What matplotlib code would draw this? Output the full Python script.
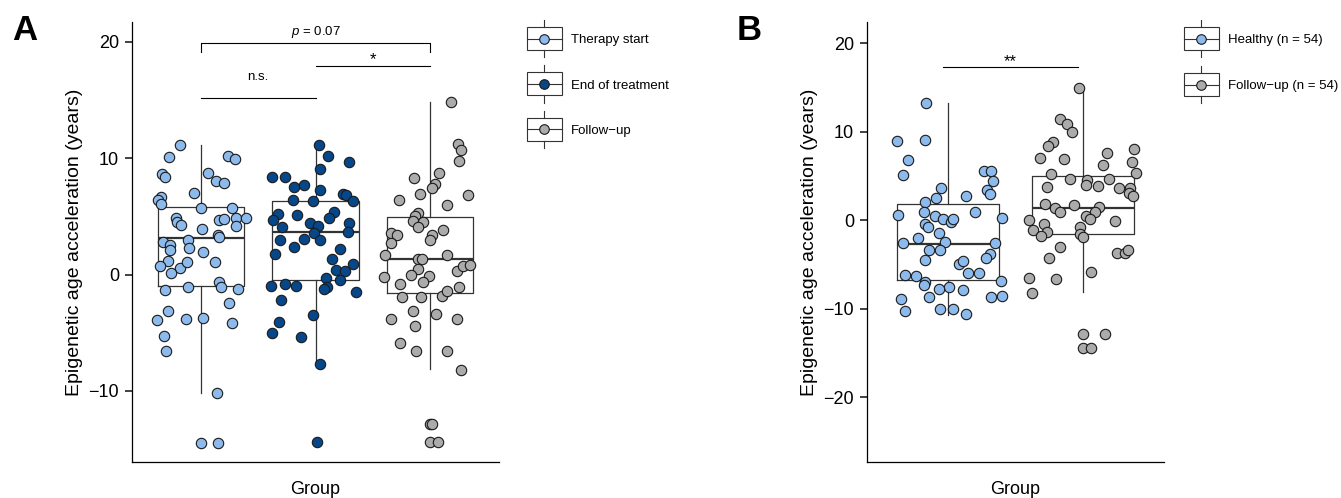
"""Epigenetic age acceleration box plots, panels A and B."""
import matplotlib
import numpy as np

matplotlib.use("Agg")
from matplotlib import pyplot as plt
from matplotlib.legend_handler import HandlerBase
from matplotlib.lines import Line2D
from matplotlib.patches import Patch, Rectangle

plt.rcParams["font.family"] = ["Liberation Sans", "DejaVu Sans"]
plt.rcParams["mathtext.fontset"] = "custom"
plt.rcParams["mathtext.it"] = "Liberation Sans:italic"
plt.rcParams["mathtext.rm"] = "Liberation Sans"

LIGHT_BLUE = "#8DBAEC"
DARK_BLUE = "#06478A"
GREY = "#ABABAB"
LINE = "#333333"
EDGE = "#1a1a1a"

# ---- panel A: therapy start / end of treatment / follow-up ----
groups_a = ["Therapy start", "End of treatment", "Follow\u2212up"]

start_y = [11.1, 10.1, 10.2, 9.9, 8.6, 8.4, 8.7, 8.0, 7.9, 7.0, 6.7, 6.4, 6.1, 5.7,
           5.7, 4.9, 4.5, 4.3, 4.7, 4.8, 4.9, 4.9, 4.2, 3.9, 3.4, 3.2, 2.8, 2.5,
           3.0, 2.1, 2.3, 1.9, 1.2, 0.7, 0.6, 1.1, 1.1, 0.1, -0.6, -1.3, -1.1, -1.1,
           -1.2, -2.4, -3.1, -3.9, -3.8, -3.7, -4.2, -5.3, -6.6, -10.2, -14.5, -14.5]
start_jit = [-0.18, -0.28, 0.24, 0.30, -0.34, -0.31, 0.06, 0.13, 0.20, -0.06, -0.35,
             -0.37, -0.35, 0.00, 0.27, -0.22, -0.21, -0.17, 0.16, 0.20, 0.31, 0.39,
             0.31, 0.01, 0.15, 0.16, -0.33, -0.27, -0.11, -0.27, -0.10, 0.02, -0.29,
             -0.36, -0.18, -0.12, 0.12, -0.26, 0.16, -0.31, -0.11, 0.18, 0.32, 0.25,
             -0.29, -0.38, -0.13, 0.02, 0.27, -0.32, -0.30, 0.14, 0.00, 0.15]

end_y = [11.1, 10.2, 9.7, 9.1, 8.4, 8.4, 7.5, 7.7, 7.3, 6.9, 6.8, 6.3, 6.4, 6.3,
         5.2, 4.7, 4.1, 5.1, 4.4, 4.2, 3.6, 5.4, 4.9, 4.4, 3.7, 3.0, 3.1, 3.0,
         2.4, 2.2, 1.8, 1.3, 0.9, 0.4, 0.3, -0.5, -0.3, -1.1, -1.2, -1.0, -0.8,
         -1.0, -1.5, -2.2, -3.5, -4.1, -5.0, -5.4, -7.7, -14.4]
end_jit = [0.03, 0.11, 0.29, 0.04, -0.38, -0.27, -0.19, -0.10, 0.04, 0.24, 0.27,
           0.33, -0.20, -0.02, -0.33, -0.37, -0.29, -0.16, -0.05, 0.02, -0.01, 0.16,
           0.12, 0.29, 0.28, -0.31, -0.10, 0.04, -0.19, 0.21, -0.35, 0.14, 0.33,
           0.18, 0.26, 0.21, 0.09, 0.10, 0.07, -0.39, -0.27, -0.17, 0.35, -0.30,
           -0.02, -0.32, -0.38, -0.13, 0.04, 0.01]

follow_a_y = [14.8, 11.2, 10.7, 9.8, 8.7, 8.3, 7.8, 7.4, 6.9, 6.8, 6.4, 6.0, 5.3,
              5.0, 4.6, 4.5, 4.1, 3.8, 3.4, 3.0, 3.6, 3.4, 2.7, 1.7, 1.3, 1.3, 1.7,
              0.5, 0.0, -0.1, -0.6, 0.3, 0.7, 0.8, -0.2, -0.8, -1.9, -1.9, -1.8,
              -1.4, -1.1, -3.1, -3.4, -3.8, -3.8, -4.4, -5.9, -6.6, -6.6, -8.2,
              -12.8, -12.8, -14.4, -14.4]
follow_a_jit = [0.18, 0.24, 0.27, 0.25, 0.08, -0.14, 0.04, 0.02, -0.09, 0.33, -0.27,
                0.15, -0.11, -0.13, -0.15, -0.06, -0.11, 0.11, 0.02, 0.00, -0.34,
                -0.29, -0.34, -0.39, -0.11, -0.07, 0.15, -0.11, -0.17, -0.01, -0.06,
                0.23, 0.29, 0.35, -0.40, -0.26, -0.25, -0.08, 0.10, 0.15, 0.25,
                -0.15, 0.05, -0.34, 0.23, -0.13, -0.26, -0.12, 0.15, 0.27, 0.00,
                0.02, 0.00, 0.07]

# box statistics: q1, median, q3, lower and upper whisker
q1_a = [-0.94, -0.45, -1.56]
med_a = [3.13, 3.70, 1.36]
q3_a = [5.79, 6.31, 4.99]
wlo_a = [-10.2, -7.6, -8.1]
whi_a = [11.1, 11.14, 14.8]

# ---- panel B: healthy controls vs follow-up ----
groups_b = ["Healthy (n = 54)", "Follow\u2212up (n = 54)"]

healthy_y = [13.3, 9.0, 9.1, 6.8, 5.1, 5.6, 5.6, 4.4, 3.4, 3.0, 3.6, 2.5, 2.1, 2.8,
             0.6, 0.9, 0.5, 0.1, -0.2, 0.2, 0.9, 0.3, -0.4, -0.8, -1.4, -2.0, -2.6,
             -2.5, -2.6, -3.4, -3.4, -3.8, -4.3, -4.5, -4.9, -4.6, -6.0, -6.0, -6.2,
             -6.3, -7.0, -7.3, -7.5, -7.8, -7.9, -6.8, -8.7, -8.7, -8.6, -8.9,
             -10.3, -10.0, -10.0, -10.6]
healthy_jit = [-0.16, -0.38, -0.17, -0.30, -0.33, 0.27, 0.32, 0.33, 0.29, 0.31,
               -0.05, -0.09, -0.17, 0.13, -0.37, -0.18, -0.10, -0.04, 0.02, 0.04,
               0.20, 0.40, -0.17, -0.15, -0.07, -0.22, -0.33, -0.02, 0.35, -0.14,
               -0.06, 0.31, 0.28, -0.17, 0.08, 0.11, 0.15, 0.23, -0.32, -0.24,
               -0.17, -0.18, 0.01, -0.07, 0.11, 0.39, -0.14, 0.32, 0.40, -0.35,
               -0.32, -0.06, 0.04, 0.13]

follow_b_y = [14.9, 11.4, 10.9, 10.0, 8.8, 8.4, 7.0, 6.9, 7.6, 8.0, 6.6, 5.4, 6.2,
              5.2, 4.7, 4.5, 4.0, 3.9, 4.7, 3.8, 3.6, 3.6, 3.1, 2.8, 1.8, 1.4, 0.9,
              1.7, 1.5, 0.9, 0.5, 0.1, -0.7, -0.1, 0.0, -1.1, -0.4, -1.3, -1.8,
              -1.6, -1.9, -3.0, -4.3, -3.7, -3.7, -3.3, -5.8, -6.5, -6.6, -8.2,
              -12.8, -12.8, -14.4, -14.4]
follow_b_jit = [-0.03, -0.17, -0.12, -0.08, -0.22, -0.26, -0.32, -0.14, 0.18, 0.38,
                0.36, 0.39, 0.15, -0.24, -0.10, 0.03, 0.02, 0.11, 0.19, -0.27, 0.27,
                0.35, 0.34, 0.37, -0.28, -0.21, -0.17, -0.07, 0.12, 0.09, 0.02,
                0.05, -0.02, 0.24, -0.40, -0.37, -0.29, -0.27, -0.31, -0.02, 0.00,
                -0.17, -0.25, 0.25, 0.31, 0.33, 0.06, -0.40, -0.20, -0.38, 0.00,
                0.16, 0.00, 0.06]

q1_b = [-6.72, -1.56]
med_b = [-2.62, 1.41]
q3_b = [1.83, 5.06]
wlo_b = [-10.67, -8.1]
whi_b = [13.3, 14.9]


class BoxKeyHandler(HandlerBase):
    """Legend key drawn like a small boxplot with a point on the median."""

    def create_artists(self, legend, orig_handle, xdescent, ydescent, width, height,
                       fontsize, trans):
        x0 = -xdescent
        xc = x0 + width / 2
        yc = 0.36 * fontsize
        half_box, half_whisk = 8.3, 13.5
        color = orig_handle.get_facecolor()
        box = Rectangle((x0, yc - half_box), width, 2 * half_box, fill=False,
                        edgecolor=LINE, linewidth=0.8, transform=trans)
        low = Line2D([xc, xc], [yc - half_whisk, yc - half_box], color=LINE, lw=0.8, transform=trans)
        high = Line2D([xc, xc], [yc + half_box, yc + half_whisk], color=LINE, lw=0.8, transform=trans)
        mid = Line2D([x0, x0 + width], [yc, yc], color=LINE, lw=0.8, transform=trans)
        dot = Line2D([xc], [yc], marker="o", markersize=6.9, markerfacecolor=color,
                     markeredgecolor=EDGE, markeredgewidth=0.8, linestyle="none", transform=trans)
        return [box, low, high, mid, dot]


def draw_panel(ax, values, jitters, colors, q1, med, q3, wlo, whi, ylim, yticks):
    stats = [
        {"q1": a, "med": m, "q3": b, "whislo": lo, "whishi": hi, "fliers": []}
        for a, m, b, lo, hi in zip(q1, med, q3, wlo, whi)
    ]
    positions = np.arange(1, len(values) + 1)
    ax.bxp(stats, positions=positions, widths=0.75, showfliers=False, showcaps=False,
           boxprops={"color": LINE, "linewidth": 0.9},
           whiskerprops={"color": LINE, "linewidth": 0.9},
           medianprops={"color": LINE, "linewidth": 1.6}, zorder=2)
    for pos, ys, jit, color in zip(positions, values, jitters, colors):
        ax.scatter(pos + np.asarray(jit), ys, s=56, color=color, edgecolors=EDGE,
                   linewidths=0.8, zorder=3)
    ax.set_xlim(0.4, len(values) + 0.6)
    ax.set_ylim(*ylim)
    ax.set_yticks(yticks)
    ax.set_xticks([])
    for side in ("top", "right"):
        ax.spines[side].set_visible(False)
    for side in ("left", "bottom"):
        ax.spines[side].set_color("black")
        ax.spines[side].set_linewidth(0.9)
    ax.tick_params(axis="y", length=4.8, width=1.3, color=LINE, labelsize=13, pad=4.5)
    ax.set_ylabel("Epigenetic age acceleration (years)", fontsize=14, labelpad=4)
    ax.set_xlabel("Group", fontsize=13, labelpad=14)


fig = plt.figure(figsize=(13.41, 4.98), dpi=100)
ax_a = fig.add_axes([132 / 1341, 36 / 498, 367 / 1341, 440 / 498])
ax_b = fig.add_axes([867 / 1341, 36 / 498, 297 / 1341, 440 / 498])

colors_a = [LIGHT_BLUE, DARK_BLUE, GREY]
draw_panel(ax_a, [start_y, end_y, follow_a_y], [start_jit, end_jit, follow_a_jit],
           colors_a, q1_a, med_a, q3_a, wlo_a, whi_a, (-16.1, 21.7), [-10, 0, 10, 20])

colors_b = [LIGHT_BLUE, GREY]
draw_panel(ax_b, [healthy_y, follow_b_y], [healthy_jit, follow_b_jit],
           colors_b, q1_b, med_b, q3_b, wlo_b, whi_b, (-27.3, 22.4), [-20, -10, 0, 10, 20])

# significance annotations
ax_a.plot([1, 1, 3, 3], [19.1, 19.92, 19.92, 19.1], color="black", lw=0.8)
ax_a.text(2, 20.6, "$p$ = 0.07", ha="center", va="baseline", fontsize=9.5)
ax_a.plot([2, 3], [17.95, 17.95], color="black", lw=0.8)
ax_a.text(2.5, 18.1, "*", ha="center", va="baseline", fontsize=12)
ax_a.plot([1, 2], [15.15, 15.15], color="black", lw=0.8)
ax_a.text(1.5, 16.72, "n.s.", ha="center", va="baseline", fontsize=9.5)

ax_b.plot([0.963, 1.963], [17.29, 17.29], color="black", lw=0.8)
ax_b.text(1.46, 17.45, "**", ha="center", va="baseline", fontsize=12)

# legends
handles_a = [Patch(facecolor=c) for c in colors_a]
fig.legend(handles_a, groups_a, handler_map={Patch: BoxKeyHandler()}, loc="upper left",
           bbox_to_anchor=(527 / 1341, 1 - 29 / 498), frameon=False, fontsize=9.5,
           handlelength=2.65, handleheight=2.0, handletextpad=0.65, labelspacing=1.89,
           borderpad=0, borderaxespad=0)
handles_b = [Patch(facecolor=c) for c in colors_b]
fig.legend(handles_b, groups_b, handler_map={Patch: BoxKeyHandler()}, loc="upper left",
           bbox_to_anchor=(1184 / 1341, 1 - 29 / 498), frameon=False, fontsize=9.5,
           handlelength=2.65, handleheight=2.0, handletextpad=0.65, labelspacing=1.94,
           borderpad=0, borderaxespad=0)

fig.text(12 / 1341, 1 - 40 / 498, "A", fontsize=25, fontweight="bold", va="baseline")
fig.text(737 / 1341, 1 - 40 / 498, "B", fontsize=25, fontweight="bold", va="baseline")

fig.savefig("out.png", dpi=100)
plt.close(fig)
